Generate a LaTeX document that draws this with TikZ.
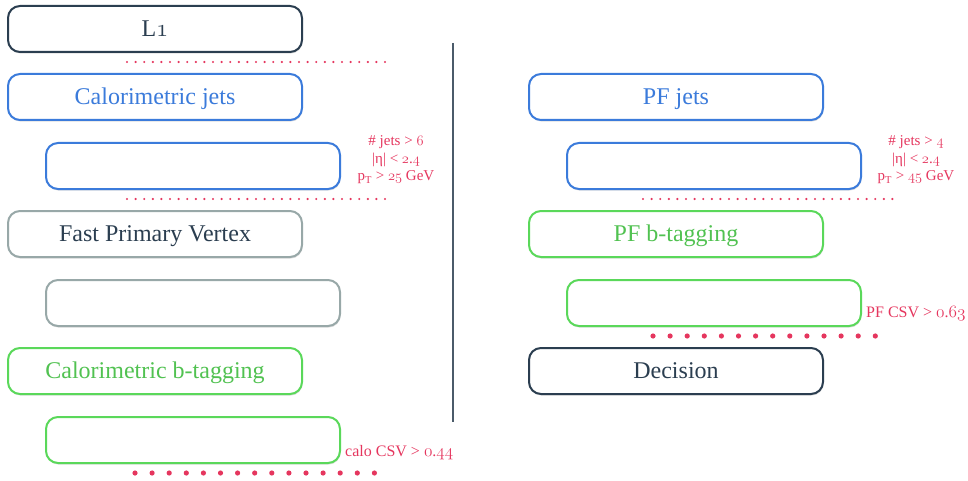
\documentclass[tikz,border=0pt]{standalone}
\usepackage{fontspec}
\setmainfont{Liberation Serif}
\usepackage{xcolor}
\usepackage{tikz}
\usetikzlibrary{shadows}

\definecolor{slate}{HTML}{2B3E50}
\definecolor{jetblue}{HTML}{3B7BDB}
\definecolor{vtxgray}{HTML}{98A8A8}
\definecolor{btgreen}{HTML}{5AD85A}
\definecolor{cutred}{HTML}{E5365E}

% old-style digits
\newcommand\osnum[1]{{\usefont{OML}{cmm}{m}{it}#1}}

\tikzset{
  stagebox/.style={draw, fill=white, line width=2pt, rounded corners=12pt,
    minimum width=294pt, minimum height=46pt, inner sep=0pt,
    text height=19pt, text depth=4pt,
    font=\fontsize{24}{28}\selectfont,
    drop shadow={shadow xshift=0.6pt, shadow yshift=-1.6pt, opacity=0.25}},
  cutlabel/.style={text=cutred, align=center, inner sep=0pt},
  smalldots/.style={draw=cutred, line width=2.4pt, line cap=round, dash pattern=on 0pt off 8.6pt},
  bigdots/.style={draw=cutred, line width=5.2pt, line cap=round, dash pattern=on 0pt off 17.1pt},
}

\begin{document}
\begin{tikzpicture}[x=1pt, y=-1pt]
  \useasboundingbox (0,0) rectangle (968,481);

  % calo path
  \node[stagebox, draw=slate, text=slate] (l1) at (155,29) {L\osnum{1}};
  \node[stagebox, draw=jetblue, text=jetblue] (calojets) at (155,97) {Calorimetric jets};
  \node[stagebox, draw=jetblue] (calojetcut) at (193,166) {};
  \node[stagebox, draw=vtxgray, text=slate] (fpv) at (155,234) {Fast Primary Vertex};
  \node[stagebox, draw=vtxgray] (fpvcut) at (193,303) {};
  \node[stagebox, draw=btgreen, text=btgreen!90!black] (calobtag) at (155,371) {Calorimetric b-tagging};
  \node[stagebox, draw=btgreen] (calobtagcut) at (193,440) {};

  \node[cutlabel, font=\fontsize{15}{17.5}\selectfont] (calojetlbl) at (396,160)
    {\# jets > \osnum{6}\\ |η| < \osnum{2}.\osnum{4}\\ p\textsubscript{T} > \osnum{25} GeV};
  \node[cutlabel, anchor=west, font=\fontsize{16}{19}\selectfont] (calocsvlbl) at (345,453)
    {calo CSV > \osnum{0}.\osnum{44}};

  \draw[smalldots] (127,62) -- (385,62);
  \draw[smalldots] (127,199) -- (385,199);
  \draw[bigdots] (135,473) -- (375,473);

  % divider
  \draw[slate!85, line width=1.8pt] (453,43) -- (453,422);

  % PF path
  \node[stagebox, draw=jetblue, text=jetblue] (pfjets) at (676,97) {PF jets};
  \node[stagebox, draw=jetblue] (pfjetcut) at (714,166) {};
  \node[stagebox, draw=btgreen, text=btgreen!90!black] (pfbtag) at (676,234) {PF b-tagging};
  \node[stagebox, draw=btgreen] (pfbtagcut) at (714,303) {};
  \node[stagebox, draw=slate, text=slate] (decision) at (676,371) {Decision};

  \node[cutlabel, font=\fontsize{15}{17.5}\selectfont] (pfjetlbl) at (916,160)
    {\# jets > \osnum{4}\\ |η| < \osnum{2}.\osnum{4}\\ p\textsubscript{T} > \osnum{45} GeV};
  \node[cutlabel, anchor=west, font=\fontsize{16}{19}\selectfont] (pfcsvlbl) at (866,314)
    {PF CSV > \osnum{0}.\osnum{63}};

  \draw[smalldots] (643,199) -- (900,199);
  \draw[bigdots] (653,336) -- (892,336);
\end{tikzpicture}
\end{document}
